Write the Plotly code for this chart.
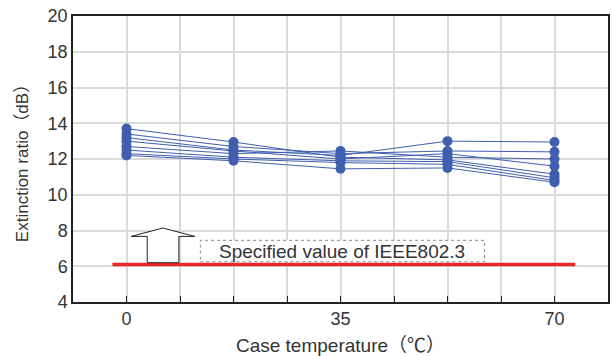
import plotly.graph_objects as go

# ---- data ----
temps = [0, 17.5, 35, 52.5, 70]
series = [
    [13.7, 12.95, 12.10, 11.95, 11.15],
    [13.4, 12.70, 12.30, 12.45, 12.40],
    [13.2, 12.50, 12.20, 13.00, 12.95],
    [13.0, 12.45, 12.00, 12.30, 11.60],
    [12.7, 12.30, 12.45, 12.10, 12.00],
    [12.5, 12.10, 11.90, 11.85, 10.95],
    [12.3, 12.00, 11.80, 11.70, 10.80],
    [12.2, 11.90, 11.45, 11.50, 10.70],
]
spec_x = [-2.3, 73.4]
spec_y = [6.1, 6.1]
x_grid = [0, 8.75, 17.5, 26.25, 35, 43.75, 52.5, 61.25, 70]
x_labels = ["0", "", "", "", "35", "", "", "", "70"]
y_ticks = [4, 6, 8, 10, 12, 14, 16, 18, 20]
spec_label = "Specified value of IEEE802.3"

FONT = "Liberation Sans, Arial, Noto Sans CJK JP, sans-serif"
BLUE = "#3f5fae"

fig = go.Figure()
fig.add_trace(go.Scatter(x=spec_x, y=spec_y, mode="lines",
                         line=dict(color="#e8262c", width=3.5),
                         hoverinfo="skip", showlegend=False))
for s in series:
    fig.add_trace(go.Scatter(x=temps, y=s, mode="lines+markers",
                             line=dict(color=BLUE, width=1),
                             marker=dict(color=BLUE, size=10),
                             showlegend=False))

# hollow arrow (annotation graphic)
ax = dict(x1=3.39, x2=8.57, xl=0.77, xr=11.14, xt=5.95, y0=6.2, y1=7.67, yt=8.14)
path = (f"M {ax['x1']},{ax['y0']} L {ax['x1']},{ax['y1']} L {ax['xl']},{ax['y1']} "
        f"L {ax['xt']},{ax['yt']} L {ax['xr']},{ax['y1']} L {ax['x2']},{ax['y1']} "
        f"L {ax['x2']},{ax['y0']} Z")
fig.add_shape(type="path", path=path, xref="x", yref="y",
              line=dict(color="#222", width=1), fillcolor="white")
fig.add_shape(type="rect", xref="x", yref="y", x0=12.08, x1=58.55, y0=6.25, y1=7.45,
              line=dict(color="#888", width=1, dash="dot"), fillcolor="white")
fig.add_annotation(x=35.3, y=6.85, xref="x", yref="y", text=spec_label,
                   showarrow=False, font=dict(family=FONT, size=19, color="#333"))

fig.update_layout(
    width=612, height=356,
    margin=dict(l=73, r=4, t=16, b=54, autoexpand=False),
    paper_bgcolor="white", plot_bgcolor="white",
    font=dict(family=FONT, color="#333"),
    xaxis=dict(range=[-8.75, 78.75], tickvals=x_grid, ticktext=x_labels,
               showgrid=True, gridcolor="#dadada", gridwidth=1.5,
               ticks="inside", ticklen=6, tickcolor="#222", tickwidth=1,
               showline=True, linecolor="#222", linewidth=1.5, mirror=True,
               zeroline=False, tickfont=dict(size=18), automargin=False,
               title=dict(text="Case temperature（℃）", font=dict(size=19), standoff=10)),
    yaxis=dict(range=[4, 20], tickvals=y_ticks,
               showgrid=True, gridcolor="#dadada", gridwidth=1.5,
               showline=True, linecolor="#222", linewidth=1.5, mirror=True,
               zeroline=False, tickfont=dict(size=18), ticks="", automargin=False,
               title=dict(text="Extinction ratio（dB）", font=dict(size=17), standoff=15)),
)

fig.write_html("out.html", config={"displayModeBar": False},
               post_script="document.body.style.margin='0';document.body.style.overflow='hidden';")
